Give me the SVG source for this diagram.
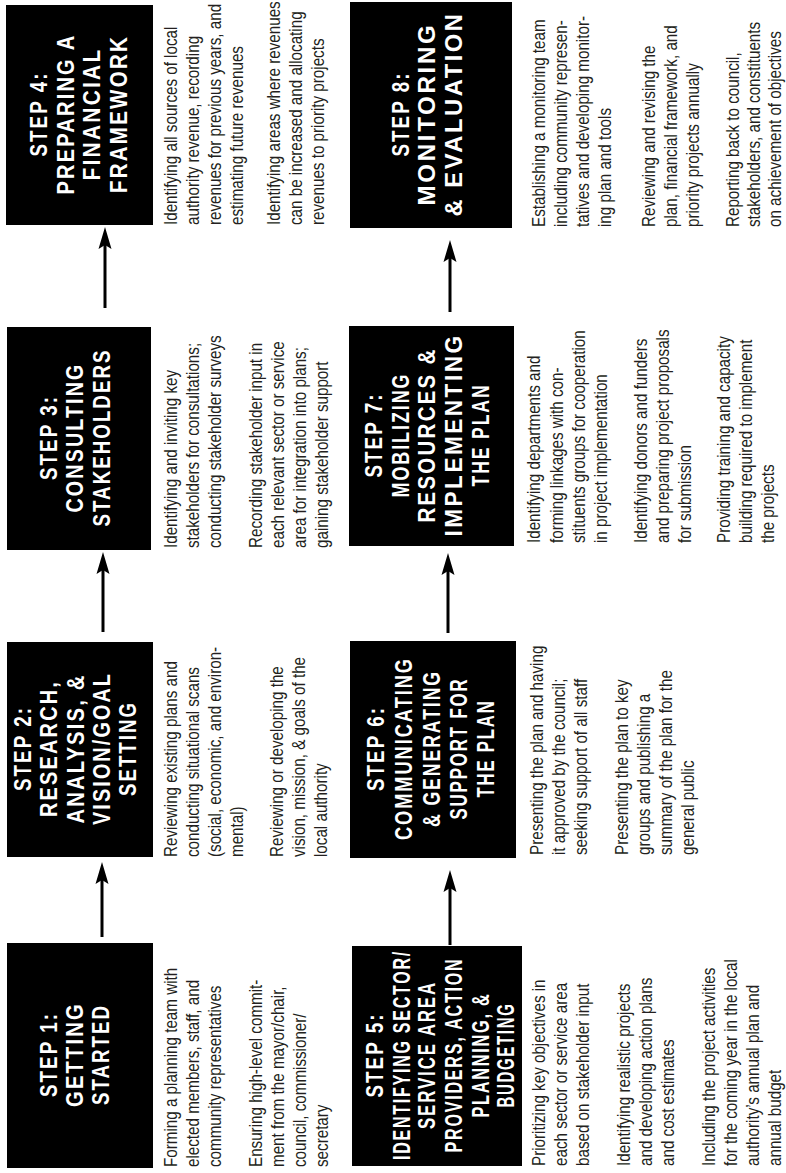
<svg xmlns="http://www.w3.org/2000/svg" width="786" height="1173" viewBox="0 0 786 1173">
<style>
.box{fill:#000}
.lbl{font-family:"Liberation Sans",Arial,sans-serif;font-weight:bold;font-size:23px;fill:#fff;text-anchor:middle;letter-spacing:2.5px}
.t{font-family:"Liberation Sans",Arial,sans-serif;font-size:19px;fill:#231f20}
.conn line{stroke:#000;stroke-width:3;fill:none;marker-end:url(#ah)}
</style>
<defs>
<marker id="ah" markerUnits="userSpaceOnUse" markerWidth="24" markerHeight="14" viewBox="0 0 24 14" refX="10" refY="7" orient="auto">
<path d="M0,0.5 L22,7 L0,13.5 L4,7 Z" fill="#000"/>
</marker>
</defs>
<rect width="786" height="1173" fill="#fff"/>
<g transform="translate(0,1173) rotate(-90)">
<g class="conn" id="connectors">
<line x1="236" y1="102" x2="299" y2="102"/>
<line x1="541" y1="103" x2="609" y2="103"/>
<line x1="865" y1="105" x2="934" y2="105"/>
<line x1="228" y1="450" x2="291" y2="450"/>
<line x1="540" y1="448" x2="608" y2="448"/>
<line x1="861" y1="450" x2="921" y2="450"/>
</g>
<g id="step1">
<rect class="box" x="5" y="7" width="225" height="146"/>
<text class="lbl" x="118.5" y="57" textLength="85" lengthAdjust="spacingAndGlyphs">STEP 1:</text>
<text class="lbl" x="118.5" y="83" textLength="105" lengthAdjust="spacingAndGlyphs">GETTING</text>
<text class="lbl" x="118.5" y="109" textLength="101" lengthAdjust="spacingAndGlyphs">STARTED</text>
<g transform="translate(6,0) scale(0.8,1)" class="t">
<text y="177">Forming a planning team with</text>
<text y="199">elected members, staff, and</text>
<text y="221">community representatives</text>
<text y="262">Ensuring high-level commit-</text>
<text y="284">ment from the mayor/chair,</text>
<text y="306">council, commissioner/</text>
<text y="328">secretary</text>
</g>
</g>
<g id="step2">
<rect class="box" x="316" y="7" width="215" height="146"/>
<text class="lbl" x="424.5" y="30.5" textLength="85" lengthAdjust="spacingAndGlyphs">STEP 2:</text>
<text class="lbl" x="424.5" y="57" textLength="137" lengthAdjust="spacingAndGlyphs">RESEARCH,</text>
<text class="lbl" x="424.5" y="83.5" textLength="150" lengthAdjust="spacingAndGlyphs">ANALYSIS, &amp;</text>
<text class="lbl" x="424.5" y="110" textLength="153" lengthAdjust="spacingAndGlyphs">VISION/GOAL</text>
<text class="lbl" x="424.5" y="136" textLength="95" lengthAdjust="spacingAndGlyphs">SETTING</text>
<g transform="translate(316,0) scale(0.8,1)" class="t">
<text y="177">Reviewing existing plans and</text>
<text y="199">conducting situational scans</text>
<text y="221">(social, economic, and environ-</text>
<text y="243">mental)</text>
<text y="283">Reviewing or developing the</text>
<text y="305">vision, mission, &amp; goals of the</text>
<text y="327">local authority</text>
</g>
</g>
<g id="step3">
<rect class="box" x="623" y="7" width="223" height="144"/>
<text class="lbl" x="735.5" y="57" textLength="85" lengthAdjust="spacingAndGlyphs">STEP 3:</text>
<text class="lbl" x="735.5" y="83" textLength="150" lengthAdjust="spacingAndGlyphs">CONSULTING</text>
<text class="lbl" x="735.5" y="110" textLength="178" lengthAdjust="spacingAndGlyphs">STAKEHOLDERS</text>
<g transform="translate(625,0) scale(0.8,1)" class="t">
<text y="177">Identifying and inviting key</text>
<text y="199">stakeholders for consultations;</text>
<text y="221">conducting stakeholder surveys</text>
<text y="262">Recording stakeholder input in</text>
<text y="284">each relevant sector or service</text>
<text y="306">area for integration into plans;</text>
<text y="328">gaining stakeholder support</text>
</g>
</g>
<g id="step4">
<rect class="box" x="948" y="6" width="220" height="147"/>
<text class="lbl" x="1059" y="47" textLength="85" lengthAdjust="spacingAndGlyphs">STEP 4:</text>
<text class="lbl" x="1059" y="74" textLength="161" lengthAdjust="spacingAndGlyphs">PREPARING A</text>
<text class="lbl" x="1059" y="100" textLength="133" lengthAdjust="spacingAndGlyphs">FINANCIAL</text>
<text class="lbl" x="1059" y="127" textLength="158" lengthAdjust="spacingAndGlyphs">FRAMEWORK</text>
<g transform="translate(948,0) scale(0.8,1)" class="t">
<text y="177">Identifying all sources of local</text>
<text y="199">authority revenue, recording</text>
<text y="221">revenues for previous years, and</text>
<text y="243">estimating future revenues</text>
<text y="280">Identifying areas where revenues</text>
<text y="302">can be increased and allocating</text>
<text y="324">revenues to priority projects</text>
</g>
</g>
<g id="step5">
<rect class="box" x="7" y="352" width="220" height="170"/>
<text class="lbl" x="118" y="383" textLength="85" lengthAdjust="spacingAndGlyphs">STEP 5:</text>
<text class="lbl" x="118" y="410" textLength="210" lengthAdjust="spacingAndGlyphs">IDENTIFYING SECTOR/</text>
<text class="lbl" x="118" y="435" textLength="148" lengthAdjust="spacingAndGlyphs">SERVICE AREA</text>
<text class="lbl" x="118" y="462" textLength="195" lengthAdjust="spacingAndGlyphs">PROVIDERS, ACTION</text>
<text class="lbl" x="118" y="489" textLength="125" lengthAdjust="spacingAndGlyphs">PLANNING, &amp;</text>
<text class="lbl" x="118" y="514" textLength="105" lengthAdjust="spacingAndGlyphs">BUDGETING</text>
<g transform="translate(7,0) scale(0.8,1)" class="t">
<text y="545">Prioritizing key objectives in</text>
<text y="567">each sector or service area</text>
<text y="589">based on stakeholder input</text>
<text y="630">Identifying realistic projects</text>
<text y="652">and developing action plans</text>
<text y="674">and cost estimates</text>
<text y="715">Including the project activities</text>
<text y="737">for the coming year in the local</text>
<text y="759">authority’s annual plan and</text>
<text y="781">annual budget</text>
</g>
</g>
<g id="step6">
<rect class="box" x="315" y="350" width="217" height="166"/>
<text class="lbl" x="424.5" y="384" textLength="85" lengthAdjust="spacingAndGlyphs">STEP 6:</text>
<text class="lbl" x="424.5" y="412" textLength="183" lengthAdjust="spacingAndGlyphs">COMMUNICATING</text>
<text class="lbl" x="424.5" y="440" textLength="157" lengthAdjust="spacingAndGlyphs">&amp; GENERATING</text>
<text class="lbl" x="424.5" y="467" textLength="142" lengthAdjust="spacingAndGlyphs">SUPPORT FOR</text>
<text class="lbl" x="424.5" y="494" textLength="98" lengthAdjust="spacingAndGlyphs">THE PLAN</text>
<g transform="translate(318,0) scale(0.8,1)" class="t">
<text y="543.5">Presenting the plan and having</text>
<text y="565.5">it approved by the council;</text>
<text y="587.5">seeking support of all staff</text>
<text y="628.5">Presenting the plan to key</text>
<text y="650.5">groups and publishing a</text>
<text y="672.5">summary of the plan for the</text>
<text y="694.5">general public</text>
</g>
</g>
<g id="step7">
<rect class="box" x="627" y="349" width="220" height="165"/>
<text class="lbl" x="738" y="382" textLength="85" lengthAdjust="spacingAndGlyphs">STEP 7:</text>
<text class="lbl" x="738" y="409" textLength="125" lengthAdjust="spacingAndGlyphs">MOBILIZING</text>
<text class="lbl" x="738" y="435" textLength="175" lengthAdjust="spacingAndGlyphs">RESOURCES &amp;</text>
<text class="lbl" x="738" y="462" textLength="203" lengthAdjust="spacingAndGlyphs">IMPLEMENTING</text>
<text class="lbl" x="738" y="489" textLength="103" lengthAdjust="spacingAndGlyphs">THE PLAN</text>
<g transform="translate(630,0) scale(0.8,1)" class="t">
<text y="540">Identifying departments and</text>
<text y="563">forming linkages with con-</text>
<text y="585">stituents groups for cooperation</text>
<text y="607">in project implementation</text>
<text y="647">Identifying donors and funders</text>
<text y="669">and preparing project proposals</text>
<text y="691">for submission</text>
<text y="730">Providing training and capacity</text>
<text y="752">building required to implement</text>
<text y="774">the projects</text>
</g>
</g>
<g id="step8">
<rect class="box" x="945" y="350" width="226" height="162"/>
<text class="lbl" x="1059" y="409" textLength="85" lengthAdjust="spacingAndGlyphs">STEP 8:</text>
<text class="lbl" x="1059" y="435" textLength="183" lengthAdjust="spacingAndGlyphs">MONITORING</text>
<text class="lbl" x="1059" y="462" textLength="205" lengthAdjust="spacingAndGlyphs">&amp; EVALUATION</text>
<g transform="translate(946,0) scale(0.8,1)" class="t">
<text y="545">Establishing a monitoring team</text>
<text y="567">including community represen-</text>
<text y="589">tatives and developing monitor-</text>
<text y="611">ing plan and tools</text>
<text y="655">Reviewing and revising the</text>
<text y="677">plan, financial framework, and</text>
<text y="699">priority projects annually</text>
<text y="739">Reporting back to council,</text>
<text y="760">stakeholders, and constituents</text>
<text y="781">on achievement of objectives</text>
</g>
</g>
</g>
</svg>
